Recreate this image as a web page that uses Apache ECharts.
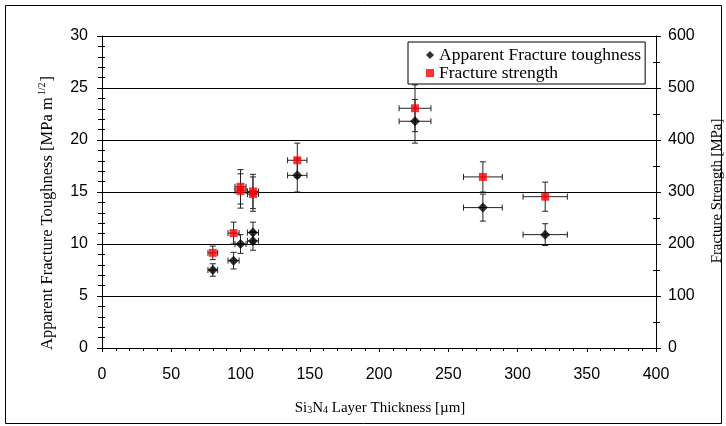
<!DOCTYPE html>
<html><head><meta charset="utf-8">
<script src="https://cdn.jsdelivr.net/npm/echarts@6/dist/echarts.min.js"></script>
<style>html,body{margin:0;padding:0;background:#fff}#c{width:726px;height:426px}</style>
</head><body><div id="c"></div>
<script>
// Toughness series (left axis)
var toughX = [80, 95, 100, 109, 109, 141, 226, 275, 320];
var toughY = [7.5, 8.4, 10.0, 11.1, 10.3, 16.6, 21.8, 13.5, 10.9];
var toughYErr = [0.6, 0.8, 0.9, 1.0, 0.9, 1.6, 2.1, 1.3, 1.05];
var toughXErr = [3.5, 4, 4, 4, 4, 7, 11.5, 14, 16];
// Strength series (right axis)
var strX = [80, 95, 100, 100, 109, 109, 141, 226, 275, 320];
var strY = [183, 221, 310, 302, 301, 296, 361, 461, 329, 291];
var strYErr = [13, 21, 33, 33, 33, 33, 33, 45, 29, 28];
var strXErr = [3.5, 4, 4, 4, 4, 4, 7, 11.5, 14, 16];
var xTicks = [0, 50, 100, 150, 200, 250, 300, 350, 400];
var leftTicks = [0, 5, 10, 15, 20, 25, 30];
var rightTicks = [0, 100, 200, 300, 400, 500, 600];

var chart = echarts.init(document.getElementById('c'));
var lab = {color:'#000', fontFamily:'Liberation Sans', fontSize:16};
var serif = 'Liberation Serif';

function errData(xs, ys, xe, ye){
  return xs.map(function(x,i){return [x, ys[i], xe[i], ye[i]];});
}
function errRender(params, api){
  var x = api.value(0), y = api.value(1), dx = api.value(2), dy = api.value(3);
  var c = api.coord([x, y]);
  var l = api.coord([x-dx, y]), r = api.coord([x+dx, y]);
  var t = api.coord([x, y+dy]), b = api.coord([x, y-dy]);
  var st = {stroke:'#222', lineWidth:1};
  var cap = 3;
  return {type:'group', children:[
    {type:'line', shape:{x1:l[0],y1:c[1],x2:r[0],y2:c[1]}, style:st},
    {type:'line', shape:{x1:l[0],y1:c[1]-cap,x2:l[0],y2:c[1]+cap}, style:st},
    {type:'line', shape:{x1:r[0],y1:c[1]-cap,x2:r[0],y2:c[1]+cap}, style:st},
    {type:'line', shape:{x1:c[0],y1:t[1],x2:c[0],y2:b[1]}, style:st},
    {type:'line', shape:{x1:c[0]-cap,y1:t[1],x2:c[0]+cap,y2:t[1]}, style:st},
    {type:'line', shape:{x1:c[0]-cap,y1:b[1],x2:c[0]+cap,y2:b[1]}, style:st}
  ]};
}

var option = {
  animation:false,
  backgroundColor:'#fff',
  grid:{left:102, right:70, top:36, bottom:78, containLabel:false},
  legend:{
    left:408, top:42, orient:'vertical', itemGap:0,
    itemWidth:8, itemHeight:8,
    padding:[4, 4, 2, 18],
    borderColor:'#000', borderWidth:1, backgroundColor:'#fff',
    textStyle:{fontFamily:serif, fontSize:17.5, lineHeight:17, color:'#000', padding:[0,0,0,0]},
    data:['Apparent Fracture toughness','Fracture strength']
  },
  xAxis:{
    type:'value', min:xTicks[0], max:xTicks[xTicks.length-1], interval:50,
    axisLine:{lineStyle:{color:'#000'}},
    axisTick:{length:4, lineStyle:{color:'#000'}},
    minorTick:{show:true, splitNumber:5, length:3, lineStyle:{color:'#000'}},
    axisLabel:Object.assign({margin:19}, lab),
    splitLine:{show:false}
  },
  yAxis:[
    {type:'value', min:leftTicks[0], max:leftTicks[leftTicks.length-1], interval:5, position:'left',
     axisLine:{show:true, lineStyle:{color:'#000'}},
     axisTick:{show:true, length:5, lineStyle:{color:'#000'}},
     minorTick:{show:true, splitNumber:5, length:4, lineStyle:{color:'#000'}},
     axisLabel:Object.assign({margin:14}, lab),
     splitLine:{show:true, lineStyle:{color:'#000', width:1}}},
    {type:'value', min:rightTicks[0], max:rightTicks[rightTicks.length-1], interval:100, position:'right',
     axisLine:{show:true, lineStyle:{color:'#000'}},
     axisTick:{show:true, length:5, lineStyle:{color:'#000'}},
     minorTick:{show:true, splitNumber:2, length:4, lineStyle:{color:'#000'}},
     axisLabel:Object.assign({margin:12}, lab),
     splitLine:{show:false}},
    {type:'value', min:leftTicks[0], max:leftTicks[leftTicks.length-1], interval:5, position:'left',
     axisLine:{show:false}, axisLabel:{show:false}, splitLine:{show:false},
     axisTick:{show:true, inside:true, length:3, lineStyle:{color:'#000'}},
     minorTick:{show:true, splitNumber:5, length:3, lineStyle:{color:'#000'}}},
    {type:'value', min:rightTicks[0], max:rightTicks[rightTicks.length-1], interval:100, position:'right',
     axisLine:{show:false}, axisLabel:{show:false}, splitLine:{show:false},
     axisTick:{show:true, inside:true, length:3, lineStyle:{color:'#000'}},
     minorTick:{show:true, splitNumber:2, length:3, lineStyle:{color:'#000'}}}
  ],
  graphic:[
    {type:'rect', silent:true, z:-10, shape:{x:5.5, y:5.5, width:716, height:418},
     style:{fill:'none', stroke:'#000', lineWidth:1}},
    {type:'text', x:48, y:213, rotation:Math.PI/2,
     style:{text:'{a|Apparent Fracture Toughness [MPa m}{s|1/2}{a|]}', align:'center', verticalAlign:'middle',
       rich:{a:{fontFamily:serif, fontSize:16.5, fill:'#000', color:'#000'},
             s:{fontFamily:serif, fontSize:10, fill:'#000', color:'#000', padding:[0,1,12,2]}}}},
    {type:'text', x:717, y:191, rotation:Math.PI/2,
     style:{text:'Fracture Strength [MPa]', align:'center', verticalAlign:'middle',
       font:'14.8px "Liberation Serif"', fill:'#000'}},
    {type:'text', x:380, y:408,
     style:{text:'{a|Si}{b|3}{a|N}{b|4}{a| Layer Thickness [µm]}', align:'center', verticalAlign:'middle',
       rich:{a:{fontFamily:serif, fontSize:15, fill:'#000', color:'#000'},
             b:{fontFamily:serif, fontSize:10, fill:'#000', color:'#000', padding:[5,0,0,0]}}}}
  ],
  series:[
    {type:'custom', name:'errT', xAxisIndex:0, yAxisIndex:0, renderItem:errRender,
     data:errData(toughX, toughY, toughXErr, toughYErr), encode:{x:0, y:1}, z:2, silent:true},
    {type:'custom', name:'errS', xAxisIndex:0, yAxisIndex:1, renderItem:errRender,
     data:errData(strX, strY, strXErr, strYErr), encode:{x:0, y:1}, z:2, silent:true},
    {type:'scatter', name:'Apparent Fracture toughness', xAxisIndex:0, yAxisIndex:0,
     symbol:'diamond', symbolSize:10, itemStyle:{color:'#000'}, z:5,
     data:toughX.map(function(x,i){return [x, toughY[i]];})},
    {type:'scatter', name:'Fracture strength', xAxisIndex:0, yAxisIndex:1,
     symbol:'rect', symbolSize:8, itemStyle:{color:'#ff0000'}, z:6,
     data:strX.map(function(x,i){return [x, strY[i]];})}
  ]
};
chart.setOption(option);
</script></body></html>
